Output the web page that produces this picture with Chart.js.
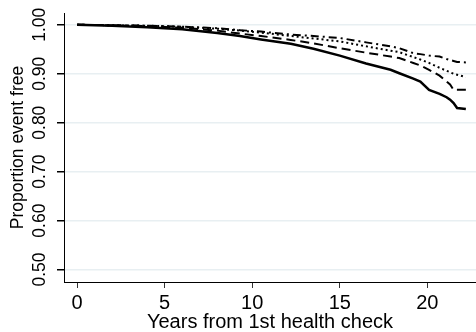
<!DOCTYPE html>
<html>
<head>
<meta charset="utf-8">
<script src="https://cdn.jsdelivr.net/npm/chart.js@4/dist/chart.umd.min.js"></script>
<style>
  html, body { margin: 0; padding: 0; background: #fff; }
  #wrap { width: 476px; height: 332px; }
</style>
</head>
<body>
<div id="wrap"><canvas id="km" width="476" height="332"></canvas></div>
<script>
// anos de acompanhamento (eixo x)
const anos = [0, 2, 4, 6, 8, 9.3, 10.5, 12.2, 13.5, 15, 16.5, 17.9, 18.4, 19.2, 19.6, 20.1, 20.7, 21.1, 21.3, 21.5, 21.7, 22.2];

// proporção livre de evento, uma série por grupo
const grupoSolido = [1.000, 0.998, 0.995, 0.991, 0.983, 0.977, 0.970, 0.961, 0.951, 0.937, 0.921, 0.908, 0.901, 0.890, 0.884, 0.867, 0.859, 0.852, 0.847, 0.840, 0.830, 0.828];
const grupoTracejado = [1.000, 0.999, 0.997, 0.994, 0.988, 0.982, 0.977, 0.969, 0.962, 0.952, 0.943, 0.935, 0.932, 0.922, 0.917, 0.908, 0.896, 0.884, 0.878, 0.867, 0.867, 0.867];
const grupoPontilhado = [1.000, 0.999, 0.998, 0.996, 0.992, 0.988, 0.984, 0.977, 0.972, 0.966, 0.956, 0.947, 0.944, 0.934, 0.929, 0.922, 0.912, 0.906, 0.903, 0.900, 0.898, 0.893];
const grupoTracoPonto = [1.000, 0.999, 0.998, 0.996, 0.993, 0.989, 0.986, 0.980, 0.977, 0.973, 0.964, 0.956, 0.952, 0.942, 0.940, 0.937, 0.935, 0.930, 0.928, 0.926, 0.924, 0.923];

const ticksX = [0, 5, 10, 15, 20];
const ticksY = [0.5, 0.6, 0.7, 0.8, 0.9, 1.0];

const familia = "'Liberation Sans', Arial, sans-serif";
const fonteX = { family: familia, size: 20 };
const fonteY = { family: familia, size: 17.5 };

const serie = (vals, dash, largura) => ({
  data: vals.map((v, i) => ({ x: anos[i], y: v })),
  borderColor: '#000',
  borderWidth: largura,
  borderDash: dash,
  pointRadius: 0,
  tension: 0,
  fill: false
});

new Chart(document.getElementById('km'), {
  type: 'line',
  data: {
    datasets: [
      serie(grupoTracoPonto, [8, 4, 2, 4], 2),
      serie(grupoPontilhado, [2, 3], 2),
      serie(grupoTracejado, [9, 5], 2),
      serie(grupoSolido, [], 2.5)
    ]
  },
  options: {
    responsive: false,
    animation: false,
    layout: { padding: { top: 13, right: 0, bottom: 0, left: 0 } },
    plugins: { legend: { display: false }, tooltip: { enabled: false } },
    scales: {
      x: {
        type: 'linear',
        min: -0.75,
        max: 22.78,
        afterBuildTicks: s => { s.ticks = ticksX.map(v => ({ value: v })); },
        afterFit: s => { s.height = 50; },
        ticks: { font: fonteX, color: '#000', padding: 3, maxRotation: 0 },
        grid: { drawOnChartArea: false, tickLength: 6, tickColor: '#333' },
        border: { color: '#000', width: 1 },
        title: {
          display: true,
          text: 'Years from 1st health check',
          font: { ...fonteX, lineHeight: 1 },
          color: '#000',
          padding: 0
        }
      },
      y: {
        min: 0.4746,
        max: 1.024,
        afterBuildTicks: s => { s.ticks = ticksY.map(v => ({ value: v })); },
        afterFit: s => { s.width = 64; },
        ticks: {
          font: fonteY,
          color: '#000',
          padding: 0,
          minRotation: 90,
          maxRotation: 90,
          crossAlign: 'center',
          callback: v => v.toFixed(2)
        },
        grid: { color: '#e8eff2', lineWidth: 1.5, tickLength: 7, tickColor: '#000' },
        border: { color: '#000', width: 1 },
        title: {
          display: true,
          text: 'Proportion event free',
          font: fonteY,
          color: '#000',
          padding: { top: 8 }
        }
      }
    }
  }
});
</script>
</body>
</html>
